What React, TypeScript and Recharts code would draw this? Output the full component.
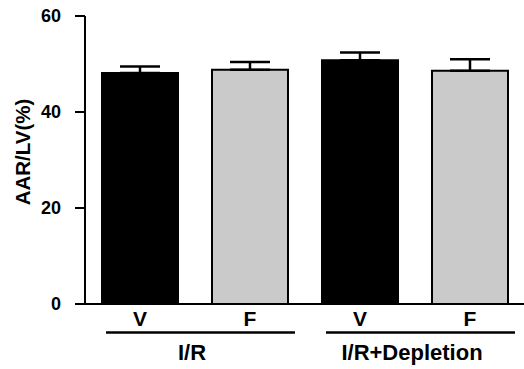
import { BarChart, Bar, XAxis, YAxis, ErrorBar, Cell } from "recharts"

// treatment per bar, and which group (I/R or I/R+Depletion) it sits under
const categories = ["V", "F", "V", "F"]
const groupOf = [0, 0, 1, 1]
const groups = ["I/R", "I/R+Depletion"]
const values = [48.1, 48.8, 50.8, 48.6]
const errors = [1.4, 1.6, 1.6, 2.4]
const fills = ["#000000", "#c9cac9", "#000000", "#c9cac9"]
const yTicks = [0, 20, 40, 60]

const FONT = "'Liberation Sans', Arial, sans-serif"

const data = categories.map((c, i) => ({
  name: c,
  value: values[i],
  err: [0, errors[i]],
}))

function XTick(props: any) {
  const { x, y, index, payload } = props
  const g = groupOf[index]
  const firstInGroup = index === 0 || groupOf[index - 1] !== g
  return (
    <g>
      <text
        x={x}
        y={y + 22}
        textAnchor="middle"
        fontFamily={FONT}
        fontWeight="bold"
        fontSize={21}
        fill="#000"
      >
        {payload.value}
      </text>
      {firstInGroup && (
        <g>
          <line x1={x - 34} x2={x + 155} y1={y + 28.5} y2={y + 28.5} stroke="#000" strokeWidth={2.5} />
          <text
            x={x + 52}
            y={y + 56}
            textAnchor="middle"
            fontFamily={FONT}
            fontWeight="bold"
            fontSize={22}
            fill="#000"
          >
            {groups[g]}
          </text>
        </g>
      )}
    </g>
  )
}

function YLabel(props: any) {
  const { viewBox } = props
  const cx = viewBox.x + 22
  const cy = viewBox.y + viewBox.height / 2 - 8
  return (
    <text
      x={cx}
      y={cy}
      transform={`rotate(-90 ${cx} ${cy})`}
      textAnchor="middle"
      dominantBaseline="central"
      fontFamily={FONT}
      fontWeight="bold"
      fontSize={20.5}
      fill="#000"
    >
      AAR/LV(%)
    </text>
  )
}

export default function App() {
  return (
    <div style={{ position: "absolute", left: 0, top: 0, background: "#fff" }}>
      <BarChart
        width={524}
        height={369}
        data={data}
        margin={{ top: 16, right: -1, left: 0, bottom: 0 }}
        barSize={76}
      >
        <XAxis
          dataKey="name"
          axisLine={{ stroke: "#000", strokeWidth: 2 }}
          tickLine={false}
          tickSize={0}
          tickMargin={0}
          height={65}
          interval={0}
          tick={<XTick />}
        />
        <YAxis
          domain={[0, 60]}
          ticks={yTicks}
          width={85}
          axisLine={{ stroke: "#000", strokeWidth: 2 }}
          tickLine={{ stroke: "#000", strokeWidth: 2 }}
          tickSize={10}
          tickMargin={14}
          tick={{ fontFamily: FONT, fontWeight: "bold", fontSize: 18, fill: "#000" }}
          label={<YLabel />}
        />
        <Bar dataKey="value" isAnimationActive={false} stroke="#000" strokeWidth={2}>
          {data.map((d, i) => (
            <Cell key={i} fill={fills[i]} />
          ))}
          <ErrorBar dataKey="err" width={20} stroke="#000" strokeWidth={2.5} direction="y" isAnimationActive={false} />
        </Bar>
      </BarChart>
    </div>
  )
}
